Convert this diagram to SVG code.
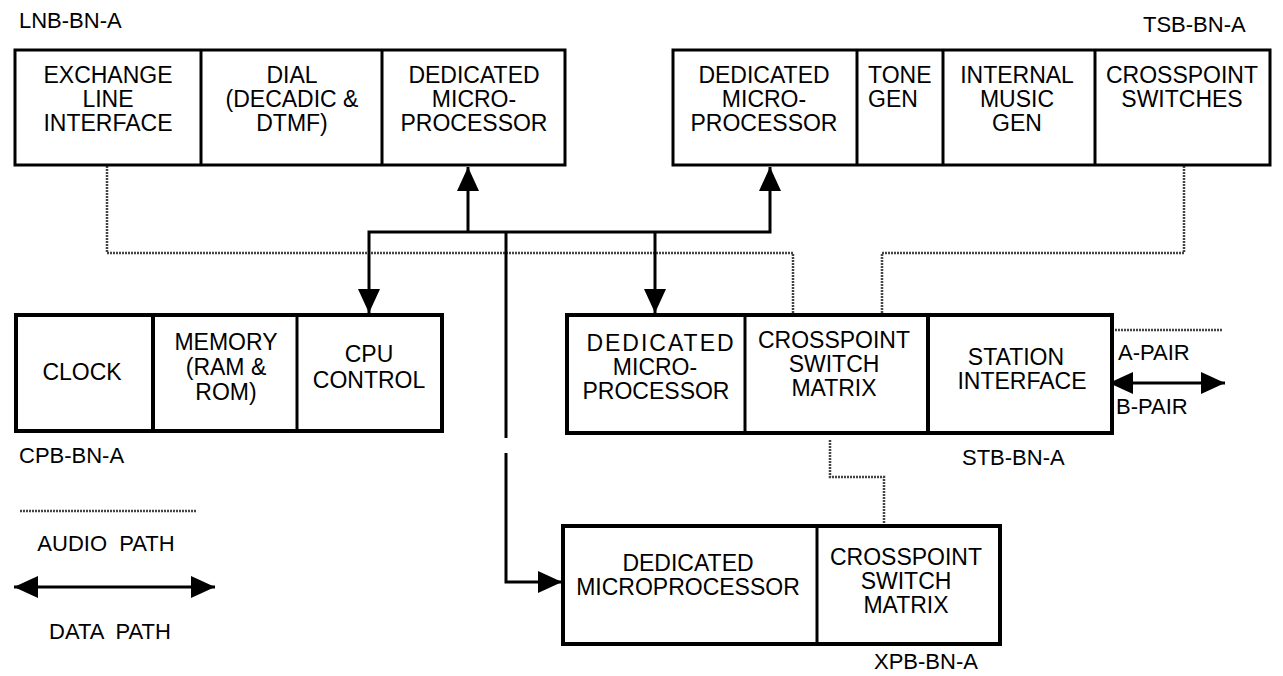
<svg xmlns="http://www.w3.org/2000/svg" width="1283" height="676" viewBox="0 0 1283 676">
<style>
  text { font-family: "Liberation Sans", Arial, sans-serif; fill: #000; }
  .t { font-size: 23px; text-anchor: middle; }
  .lbl { font-size: 22px; }
  .box { fill: #fff; stroke: #000; stroke-width: 3; }
  .boxb { fill: #fff; stroke: #000; stroke-width: 4; }
  .div { stroke: #000; stroke-width: 3; }
  .data { fill: none; stroke: #000; stroke-width: 3; }
  .audio { fill: none; stroke: #444; stroke-width: 2.5; stroke-dasharray: 2 1; }
</style>
<defs>
  <marker id="ah" viewBox="0 0 24 22" refX="24" refY="11" markerWidth="24" markerHeight="22" markerUnits="userSpaceOnUse" orient="auto-start-reverse">
    <path d="M0,0 L24,11 L0,22 z" fill="#000"/>
  </marker>
</defs>

<g id="connectors">
  <path class="audio" d="M107,166 V253 H793 V314"/>
  <path class="audio" d="M1184,166 V253 H882 V314"/>
  <path class="audio" d="M830,440 V477 H884 V525"/>
  <path class="audio" d="M1112,330 H1223"/>
  <path class="data" d="M369,313 V232 H770 V167" marker-start="url(#ah)" marker-end="url(#ah)"/>
  <path class="data" d="M468,232 V167" marker-end="url(#ah)"/>
  <path class="data" d="M655,232 V313" marker-end="url(#ah)"/>
  <path class="data" d="M506,232 V438"/>
  <path class="data" d="M506,453 V582 H562" marker-end="url(#ah)"/>
  <path class="data" d="M1109,383 H1225" marker-start="url(#ah)" marker-end="url(#ah)"/>
</g>

<g id="lnb">
  <text class="lbl" x="19" y="28">LNB-BN-A</text>
  <rect class="box" x="15" y="50" width="550" height="115"/>
  <line class="div" x1="201" y1="50" x2="201" y2="165"/>
  <line class="div" x1="382" y1="50" x2="382" y2="165"/>
  <text class="t" x="108" y="83">EXCHANGE</text>
  <text class="t" x="108" y="107">LINE</text>
  <text class="t" x="108" y="131">INTERFACE</text>
  <text class="t" x="292" y="83">DIAL</text>
  <text class="t" x="292" y="107">(DECADIC &amp;</text>
  <text class="t" x="292" y="131">DTMF)</text>
  <text class="t" x="474" y="83">DEDICATED</text>
  <text class="t" x="474" y="107">MICRO-</text>
  <text class="t" x="474" y="131">PROCESSOR</text>
</g>

<g id="tsb">
  <text class="lbl" x="1143" y="32">TSB-BN-A</text>
  <rect class="box" x="673" y="50" width="597" height="115"/>
  <line class="div" x1="857" y1="50" x2="857" y2="165"/>
  <line class="div" x1="943" y1="50" x2="943" y2="165"/>
  <line class="div" x1="1095" y1="50" x2="1095" y2="165"/>
  <text class="t" x="764" y="83">DEDICATED</text>
  <text class="t" x="764" y="107">MICRO-</text>
  <text class="t" x="764" y="131">PROCESSOR</text>
  <text class="t" x="868" y="83" style="text-anchor:start">TONE</text>
  <text class="t" x="868" y="107" style="text-anchor:start">GEN</text>
  <text class="t" x="1017" y="83">INTERNAL</text>
  <text class="t" x="1017" y="107">MUSIC</text>
  <text class="t" x="1017" y="131">GEN</text>
  <text class="t" x="1182" y="83">CROSSPOINT</text>
  <text class="t" x="1182" y="107">SWITCHES</text>
</g>

<g id="cpb">
  <rect class="boxb" x="16" y="315" width="426" height="116"/>
  <line class="div" x1="153" y1="315" x2="153" y2="431" style="stroke-width:4"/>
  <line class="div" x1="297" y1="315" x2="297" y2="431"/>
  <text class="t" x="82" y="380">CLOCK</text>
  <text class="t" x="226" y="350">MEMORY</text>
  <text class="t" x="226" y="375">(RAM &amp;</text>
  <text class="t" x="226" y="400">ROM)</text>
  <text class="t" x="369" y="362">CPU</text>
  <text class="t" x="369" y="388">CONTROL</text>
  <text class="lbl" x="19" y="463">CPB-BN-A</text>
</g>

<g id="stb">
  <rect class="boxb" x="567" y="315" width="545" height="118"/>
  <line class="div" x1="745" y1="315" x2="745" y2="433"/>
  <line class="div" x1="928" y1="315" x2="928" y2="433" style="stroke-width:4"/>
  <text class="t" x="661" y="351" style="letter-spacing:2px">DEDICATED</text>
  <text class="t" x="655" y="375">MICRO-</text>
  <text class="t" x="656" y="399">PROCESSOR</text>
  <text class="t" x="834" y="348">CROSSPOINT</text>
  <text class="t" x="834" y="372">SWITCH</text>
  <text class="t" x="834" y="396">MATRIX</text>
  <text class="t" x="1016" y="365">STATION</text>
  <text class="t" x="1022" y="389">INTERFACE</text>
  <text class="lbl" x="1118" y="360">A-PAIR</text>
  <text class="lbl" x="1116" y="414">B-PAIR</text>
  <text class="lbl" x="962" y="465">STB-BN-A</text>
</g>

<g id="xpb">
  <rect class="boxb" x="563" y="526" width="437" height="118"/>
  <line class="div" x1="817" y1="526" x2="817" y2="644"/>
  <text class="t" x="688" y="571">DEDICATED</text>
  <text class="t" x="688" y="595">MICROPROCESSOR</text>
  <text class="t" x="906" y="565">CROSSPOINT</text>
  <text class="t" x="906" y="589">SWITCH</text>
  <text class="t" x="906" y="613">MATRIX</text>
  <text class="lbl" x="874" y="669">XPB-BN-A</text>
</g>

<g id="legend">
  <path class="audio" d="M20,511 H197"/>
  <text class="lbl" x="106" y="551" text-anchor="middle" xml:space="preserve">AUDIO  PATH</text>
  <path class="data" d="M14,587 H215" marker-start="url(#ah)" marker-end="url(#ah)"/>
  <text class="lbl" x="110" y="639" text-anchor="middle" xml:space="preserve">DATA  PATH</text>
</g>
</svg>
